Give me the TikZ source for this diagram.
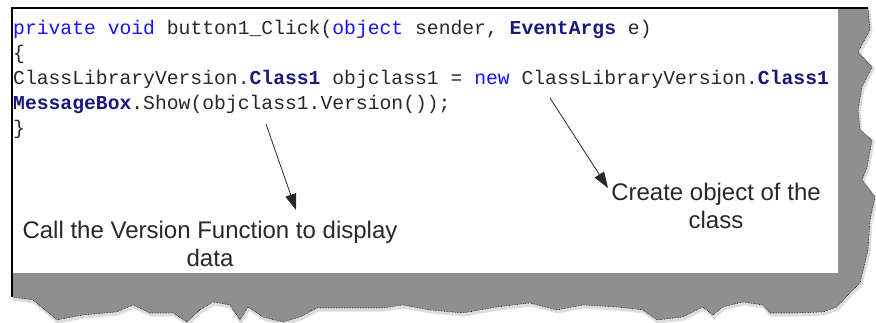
\documentclass[tikz,border=0pt]{standalone}
\usepackage{fontspec}
\setmainfont{Liberation Sans}
\setmonofont{Liberation Mono}
\usepackage{xcolor}
\usetikzlibrary{arrows.meta}

\definecolor{KwBlue}{RGB}{20,20,245}
\definecolor{TyNavy}{RGB}{25,25,125}
\definecolor{FrameGray}{RGB}{143,143,143}
\definecolor{InkGray}{RGB}{40,40,40}
\newcommand{\kw}[1]{\textcolor{KwBlue}{#1}}
\newcommand{\ty}[1]{\textcolor{TyNavy}{\bfseries #1}}

\begin{document}
\begin{tikzpicture}[x=1pt, y=-1pt,
    codeline/.style={anchor=base west, inner sep=0pt, text=InkGray,
      font=\ttfamily\fontsize{19.7}{25}\selectfont},
    note/.style={align=center, inner sep=0pt, text=InkGray,
      font=\fontsize{24}{28}\selectfont},
    pointer/.style={draw=InkGray, line width=0.8pt, -{Triangle[length=16pt, width=11pt]}}]
    \useasboundingbox (0,0) rectangle (876,323);
    % torn paper edge
    \def\tornedge{(868,8) -- (870,30) -- (858,52) -- (872,67) -- (862,87) -- (858,110) -- (860,130) -- (872,140) -- (867,167) -- (862,180) -- (875,197) -- (870,220) -- (868,250) -- (860,283) -- (850,293) -- (837,307) -- (823,312) -- (797,313) -- (770,313) -- (763,305) -- (743,302) -- (723,307) -- (713,315) -- (703,307) -- (683,317) -- (657,320) -- (643,310) -- (617,307) -- (583,305) -- (557,310) -- (530,303) -- (497,307) -- (463,313) -- (430,310) -- (403,305) -- (383,308) -- (350,308) -- (317,308) -- (300,317) -- (283,322) -- (263,317) -- (248,307) -- (240,320) -- (230,305) -- (213,302) -- (200,310) -- (187,322) -- (173,313) -- (150,313) -- (133,305) -- (117,312) -- (83,315) -- (57,320) -- (33,300) -- (12,297)}
    \draw[gray!45, line width=3pt, opacity=0.6, shift={(1,2)}] \tornedge;
    \fill[FrameGray] (12,8) -- \tornedge -- cycle;
    \draw[black, densely dotted, line width=0.6pt] \tornedge;
    \fill[white] (12,8) rectangle (838,273);
    \draw[black, line width=1.2pt] (868,8) -- (12,8) -- (12,297);

    % code
    \node[codeline] (l1) at (13,35) {\kw{private} \kw{void} button1\_Click(\kw{object} sender, \ty{EventArgs} e)};
    \node[codeline] (l2) at (13,60) {\{};
    \node[codeline] (l3) at (13,85) {ClassLibraryVersion.\ty{Class1} objclass1 = \kw{new} ClassLibraryVersion.\ty{Class1}};
    \node[codeline] (l4) at (13,110) {\ty{MessageBox}.Show(objclass1.Version());};
    \node[codeline] (l5) at (13,135) {\}};

    % notes
    \node[note] (callnote) at (210,244) {Call the Version Function to display\\data};
    \node[note] (createnote) at (716,206) {Create object of the\\class};
    \coordinate (callfrom) at (266,124);
    \coordinate (callto) at (296,210);
    \coordinate (createfrom) at (550,98);
    \coordinate (createto) at (608,188);
    \draw[pointer] (callfrom) -- (callto);
    \draw[pointer] (createfrom) -- (createto);
\end{tikzpicture}
\end{document}
